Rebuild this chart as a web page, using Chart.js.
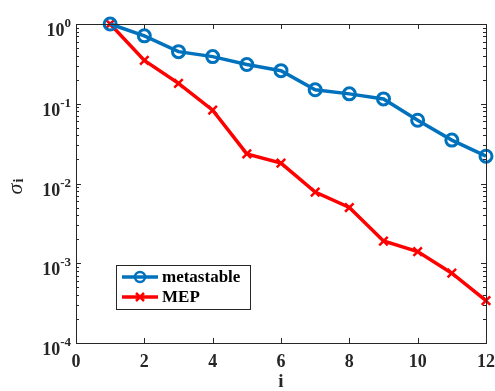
<!DOCTYPE html>
<html>
<head>
<meta charset="utf-8">
<script src="https://cdn.jsdelivr.net/npm/chart.js@4.4.0/dist/chart.umd.min.js"></script>
<style>
  html, body { margin: 0; padding: 0; background: #fff; }
  #wrap { width: 495px; height: 391px; }
</style>
</head>
<body>
<div id="wrap"><canvas id="chart" width="495" height="391"></canvas></div>
<script>
// data
var idx = [1, 2, 3, 4, 5, 6, 7, 8, 9, 10, 11, 12];
var metastable = [1.0, 0.71, 0.45, 0.39, 0.31, 0.26, 0.15, 0.133, 0.115, 0.062, 0.035, 0.022];
var mep = [1.0, 0.35, 0.18, 0.083, 0.0235, 0.018, 0.0078, 0.005, 0.0019, 0.0014, 0.00075, 0.00034];
var xTicks = [0, 2, 4, 6, 8, 10, 12];
var yDecades = [0, -1, -2, -3, -4];

var blue = '#0072BD';
var red = '#FF0000';
var font = '"Liberation Serif", "Times New Roman", serif';

function pts(ys) {
  return idx.map(function (x, k) { return { x: x, y: ys[k] }; });
}

// frame, inward ticks, y labels with exponents, axis titles, legend
var matlabLook = {
  id: 'matlabLook',
  afterDraw: function (chart) {
    var ctx = chart.ctx, a = chart.chartArea;
    var xs = chart.scales.x, ys = chart.scales.y;
    ctx.save();
    ctx.strokeStyle = '#262626';
    ctx.lineWidth = 1;
    ctx.strokeRect(Math.round(a.left) + 0.5, Math.round(a.top) + 0.5,
      Math.round(a.right - a.left), Math.round(a.bottom - a.top));

    ctx.beginPath();
    xTicks.forEach(function (t) {
      var px = Math.round(xs.getPixelForValue(t)) + 0.5;
      ctx.moveTo(px, a.bottom); ctx.lineTo(px, a.bottom - 5);
      ctx.moveTo(px, a.top); ctx.lineTo(px, a.top + 5);
    });
    for (var d = -4; d <= 0; d++) {
      for (var m = 1; m <= 9; m++) {
        if (d === 0 && m > 1) break;
        var py = Math.round(ys.getPixelForValue(m * Math.pow(10, d))) + 0.5;
        var len = m === 1 ? 5 : 3;
        ctx.moveTo(a.left, py); ctx.lineTo(a.left + len, py);
        ctx.moveTo(a.right, py); ctx.lineTo(a.right - len, py);
      }
    }
    ctx.stroke();

    // y tick labels 10^n
    ctx.fillStyle = '#262626';
    yDecades.forEach(function (e) {
      var py = ys.getPixelForValue(Math.pow(10, e));
      var exp = String(e);
      ctx.font = 'bold 13px ' + font;
      var ew = ctx.measureText(exp).width;
      ctx.textAlign = 'right';
      ctx.textBaseline = 'alphabetic';
      ctx.fillText(exp, a.left - 5, py + 3);
      ctx.font = 'bold 18px ' + font;
      ctx.fillText('10', a.left - 5 - ew, py + 12);
    });

    // y title sigma_i
    ctx.save();
    ctx.translate(22, 186);
    ctx.rotate(-Math.PI / 2);
    ctx.textAlign = 'left';
    ctx.textBaseline = 'alphabetic';
    ctx.font = 'italic 22px ' + font;
    var sw = ctx.measureText('\u03c3').width;
    var sx = -(sw + 6) / 2;
    ctx.fillText('\u03c3', sx, 0);
    ctx.font = 'bold 14px ' + font;
    ctx.fillText('i', sx + sw + 1, 1);
    ctx.restore();

    // x title
    ctx.font = 'bold 19px ' + font;
    ctx.textAlign = 'center';
    ctx.textBaseline = 'middle';
    ctx.fillText('i', (a.left + a.right) / 2, 382);

    // legend
    var lx = 116, ly = 265, lw = 134, lh = 44;
    ctx.fillStyle = '#fff';
    ctx.fillRect(lx, ly, lw, lh);
    ctx.strokeStyle = '#262626';
    ctx.lineWidth = 1;
    ctx.strokeRect(lx + 0.5, ly + 0.5, lw, lh);
    var rows = [
      { label: 'metastable', color: blue, style: 'circle' },
      { label: 'MEP', color: red, style: 'cross' }
    ];
    rows.forEach(function (r, k) {
      var cy = ly + 12 + k * 20;
      ctx.strokeStyle = r.color;
      ctx.lineWidth = 3.5;
      ctx.beginPath();
      ctx.moveTo(lx + 6, cy); ctx.lineTo(lx + 42, cy);
      ctx.stroke();
      ctx.lineWidth = 2.5;
      ctx.beginPath();
      if (r.style === 'circle') {
        ctx.arc(lx + 24, cy, 5, 0, Math.PI * 2);
      } else {
        ctx.moveTo(lx + 20, cy - 4); ctx.lineTo(lx + 28, cy + 4);
        ctx.moveTo(lx + 28, cy - 4); ctx.lineTo(lx + 20, cy + 4);
      }
      ctx.stroke();
      ctx.fillStyle = '#000';
      ctx.font = 'bold 17px ' + font;
      ctx.textAlign = 'left';
      ctx.textBaseline = 'middle';
      ctx.fillText(r.label, lx + 46, cy + 1);
    });
    ctx.restore();
  }
};

new Chart(document.getElementById('chart').getContext('2d'), {
  type: 'line',
  data: {
    datasets: [{
      label: 'metastable',
      data: pts(metastable),
      borderColor: blue,
      backgroundColor: 'rgba(0,0,0,0)',
      borderWidth: 3.5,
      pointStyle: 'circle',
      pointRadius: 6,
      pointBorderWidth: 3,
      pointBorderColor: blue,
      pointBackgroundColor: 'rgba(0,0,0,0)'
    }, {
      label: 'MEP',
      data: pts(mep),
      borderColor: red,
      backgroundColor: red,
      borderWidth: 3.5,
      pointStyle: 'crossRot',
      pointRadius: 6,
      pointBorderWidth: 2.5,
      pointBorderColor: red
    }]
  },
  options: {
    responsive: false,
    animation: false,
    clip: false,
    layout: { padding: { top: 24, right: 0, left: 0, bottom: 0 } },
    plugins: { legend: { display: false }, tooltip: { enabled: false } },
    scales: {
      x: {
        type: 'linear',
        min: 0, max: 12,
        afterBuildTicks: function (s) { s.ticks = xTicks.map(function (v) { return { value: v }; }); },
        afterFit: function (s) { s.height = 48; s.paddingLeft = 0; s.paddingRight = 0; },
        grid: { display: false, drawTicks: false },
        border: { display: false },
        ticks: { color: '#262626', padding: 9, font: { family: font, size: 18, weight: 'bold' } }
      },
      y: {
        type: 'logarithmic',
        min: 0.0001, max: 1,
        afterFit: function (s) { s.width = 76; s.paddingTop = 0; s.paddingBottom = 0; },
        grid: { display: false, drawTicks: false },
        border: { display: false },
        ticks: { display: false }
      }
    }
  },
  plugins: [matlabLook]
});
</script>
</body>
</html>
